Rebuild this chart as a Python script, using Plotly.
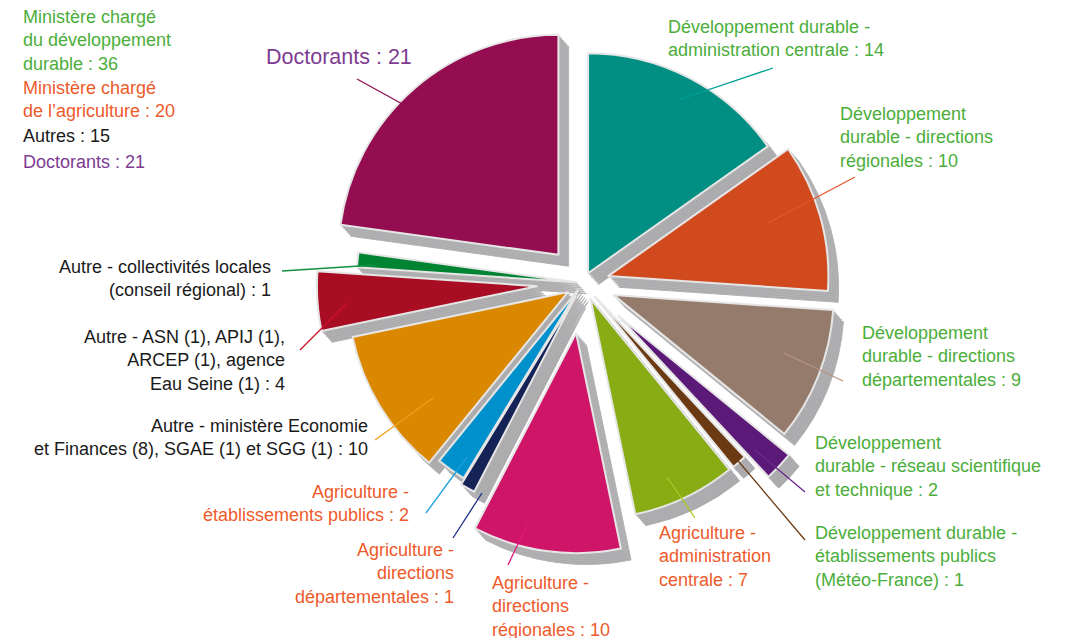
import plotly.graph_objects as go

# ---------------- data ----------------
categories = [
    "Développement durable - administration centrale",
    "Développement durable - directions régionales",
    "Développement durable - directions départementales",
    "Développement durable - réseau scientifique et technique",
    "Développement durable - établissements publics (Météo-France)",
    "Agriculture - administration centrale",
    "Agriculture - directions régionales",
    "Agriculture - directions départementales",
    "Agriculture - établissements publics",
    "Autre - ministère Economie et Finances (8), SGAE (1) et SGG (1)",
    "Autre - ASN (1), APIJ (1), ARCEP (1), agence Eau Seine (1)",
    "Autre - collectivités locales (conseil régional)",
    "Doctorants",
]
values = [14, 10, 9, 2, 1, 7, 10, 1, 2, 10, 4, 1, 21]

summary_labels = ["Ministère chargé<br>du développement<br>durable : 36",
                  "Ministère chargé<br>de l’agriculture : 20",
                  "Autres : 15",
                  "Doctorants : 21"]

slice_labels = [
    "Développement durable -<br>administration centrale : 14",
    "Développement<br>durable - directions<br>régionales : 10",
    "Développement<br>durable - directions<br>départementales : 9",
    "Développement<br>durable - réseau scientifique<br>et technique : 2",
    "Développement durable -<br>établissements publics<br>(Météo-France) : 1",
    "Agriculture -<br>administration<br>centrale : 7",
    "Agriculture -<br>directions<br>régionales : 10",
    "Agriculture -<br>directions<br>départementales : 1",
    "Agriculture -<br>établissements publics : 2",
    "Autre - ministère Economie<br>et Finances (8), SGAE (1) et SGG (1) : 10",
    "Autre - ASN (1), APIJ (1),<br>ARCEP (1), agence<br>Eau Seine (1) : 4",
    "Autre - collectivités locales<br>(conseil régional) : 1",
    "Doctorants : 21",
]

# ---------------- style ----------------
W, H = 1073, 638
OFF = 8  # page body margin compensation (px)
slice_colors = ["#008F82", "#D04A1E", "#957B6B", "#5B1A78", "#6B3A12", "#88AC14",
                "#CF1567", "#142255", "#0090CC", "#DA8800", "#A90D24", "#008432", "#930D50"]
pulls = [0.05, 0.12, 0.15, 0.22, 0.08, 0.08, 0.23, 0.07, 0.04, 0.08, 0.21, 0.03, 0.17]
GREEN_T, ORANGE_T, BLACK_T, PURPLE_T = "#4BAE3A", "#EE5A2A", "#1A1A1A", "#7D3C92"
label_colors = [GREEN_T] * 5 + [ORANGE_T] * 4 + [BLACK_T] * 3 + [PURPLE_T]
# label boxes: (x, y_center, anchor) in pixels
label_pos = [
    (666, 39, "left"), (838, 137, "left"), (860, 356, "left"), (813, 466, "left"),
    (813, 556, "left"), (657, 556, "left"), (490, 606, "left"), (456, 573, "right"),
    (411, 503, "right"), (370, 437, "right"), (287, 361, "right"), (273, 278, "right"),
    (264, 57, "left"),
]
leader_lines = [
    ((678, 100), (773, 68), "#00A09A"), ((768, 223), (855, 177), "#E8562A"),
    ((784, 353), (843, 381), "#B8957F"), ((755, 450), (805, 492), "#6A2A8A"),
    ((722, 442), (805, 540), "#6B3A12"), ((667, 477), (695, 518), "#A8C820"),
    ((527, 525), (508, 565), "#E0197A"), ((482, 493), (453, 538), "#1E2D80"),
    ((467, 457), (426, 513), "#1AA0DC"), ((433, 398), (375, 440), "#F0A020"),
    ((347, 303), (300, 350), "#C8102E"), ((282, 271), (375, 265), "#109040"),
    ((435, 122), (357, 79), "#930D50"),
]
FONT = "Liberation Sans, Arial, sans-serif"
FS = 18

R = 220
cx, cy = 583, 283
half = R * (1 + max(pulls))   # pie box half size in px


def X(x):
    return (x - OFF) / W


def Y(y):
    return 1 - (y - OFF) / H


def dom(dx, dy):
    return dict(x=[X(cx - half + dx), X(cx + half + dx)],
                y=[Y(cy + half + dy), Y(cy - half + dy)])


fig = go.Figure()

# extrusion (stacked gray copies shifted down-right)
for k in range(6, 0, -1):
    fig.add_trace(go.Pie(
        labels=categories, values=values, sort=False, direction="clockwise", rotation=0,
        pull=pulls, domain=dom(1.7 * k, 1.9 * k), textinfo="none", hoverinfo="skip",
        marker=dict(colors=["#A9A9AB"] * len(values), line=dict(color="#B4B4B6", width=1)),
        showlegend=False,
    ))

# coloured faces
fig.add_trace(go.Pie(
    labels=categories, values=values, sort=False, direction="clockwise", rotation=0,
    pull=pulls, domain=dom(0, 0), textinfo="none", hoverinfo="label+value",
    marker=dict(colors=slice_colors, line=dict(color="#E6E6E6", width=2)),
    showlegend=False,
))

shapes = []
for (x0, y0), (x1, y1), col in leader_lines:
    shapes.append(dict(type="line", xref="paper", yref="paper",
                       x0=X(x0), y0=Y(y0), x1=X(x1), y1=Y(y1),
                       line=dict(color=col, width=1.3)))

annotations = []
for txt, col, (x, y, anc) in zip(slice_labels, label_colors, label_pos):
    size = 21.5 if txt.startswith("Doctorants") else FS
    annotations.append(dict(text=txt, x=X(x), y=Y(y), xref="paper", yref="paper",
                            xanchor=anc, yanchor="middle", align=anc, showarrow=False,
                            font=dict(family=FONT, size=size, color=col)))

summary_colors = [GREEN_T, ORANGE_T, BLACK_T, PURPLE_T]
summary_y = [40, 100, 136, 162]
for txt, col, y in zip(summary_labels, summary_colors, summary_y):
    annotations.append(dict(text=txt, x=X(21), y=Y(y), xref="paper", yref="paper",
                            xanchor="left", yanchor="middle", align="left", showarrow=False,
                            font=dict(family=FONT, size=FS, color=col)))

fig.update_layout(
    width=W, height=H, margin=dict(l=0, r=0, t=0, b=0),
    paper_bgcolor="white", plot_bgcolor="white",
    shapes=shapes, annotations=annotations,
)

fig.write_html("out.html")
